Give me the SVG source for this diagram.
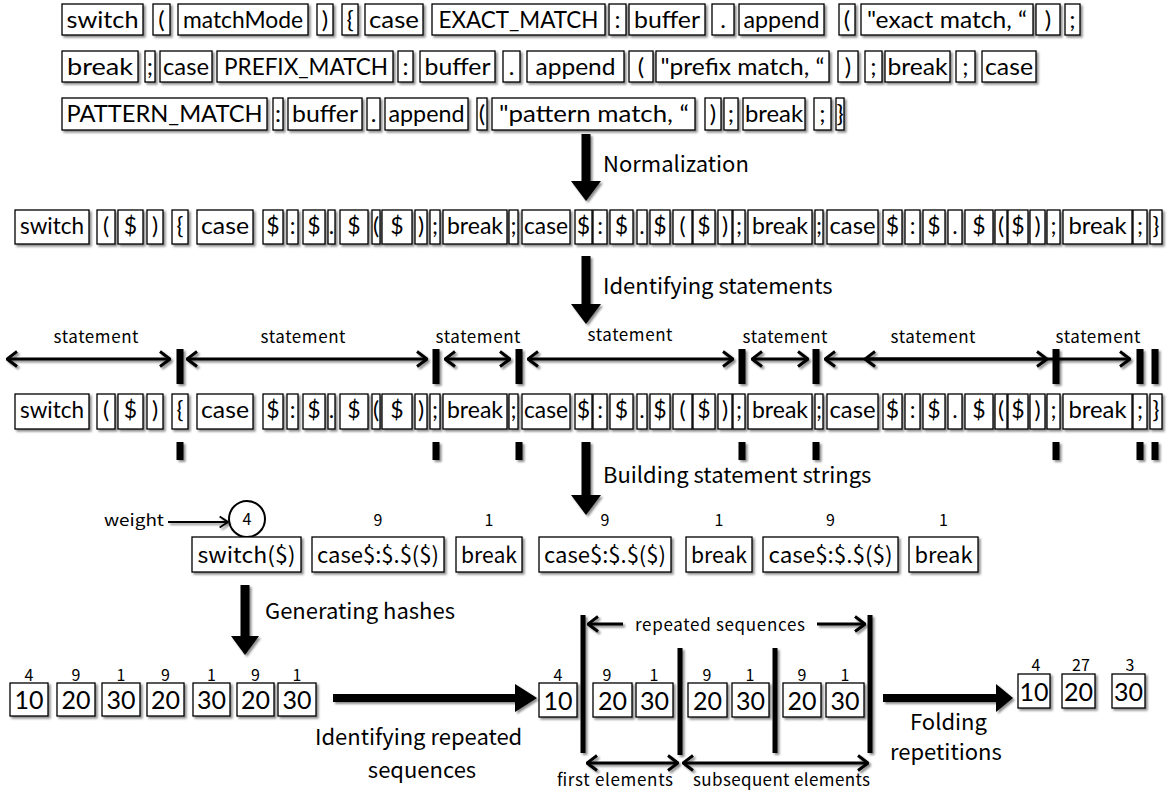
<svg xmlns="http://www.w3.org/2000/svg" width="1169" height="792" viewBox="0 0 1169 792">
<defs>
<filter id="sh" filterUnits="userSpaceOnUse" x="0" y="0" width="1169" height="792"><feDropShadow dx="2" dy="2" stdDeviation="1.2" flood-color="#000" flood-opacity="0.45"/></filter>
<marker id="ch" viewBox="0 0 12 18" refX="11" refY="9" markerWidth="12" markerHeight="18" markerUnits="userSpaceOnUse" orient="auto-start-reverse"><path d="M1,1.5 L11,9 L1,16.5" fill="none" stroke="#000" stroke-width="3"/></marker>
<marker id="ch2" viewBox="0 0 12 16" refX="11" refY="8" markerWidth="10" markerHeight="14" markerUnits="userSpaceOnUse" orient="auto"><path d="M1,1.5 L11,8 L1,14.5" fill="none" stroke="#000" stroke-width="2.2"/></marker>
</defs>
<style>
.bx{fill:#fff;stroke:#000;stroke-width:1.3;filter:url(#sh)}
.c{font-family:Lato,"Open Sans",sans-serif;font-size:24px;text-anchor:middle;fill:#000}
.n{font-family:Lato,"Open Sans",sans-serif;font-size:23px;text-anchor:middle;fill:#000}
.h{font-family:Lato,"Open Sans",sans-serif;font-size:25px;text-anchor:middle;fill:#000}
.sb{font-family:"Noto Sans CJK JP","Noto Sans",sans-serif;font-size:22px;text-anchor:middle;fill:#000}
.lb{font-family:"Noto Sans CJK JP","Noto Sans",sans-serif;font-size:22px;fill:#000}
.st{font-family:"Noto Sans CJK JP","Noto Sans",sans-serif;font-size:17px;text-anchor:middle;fill:#000}
.sm{font-family:"Noto Sans CJK JP","Noto Sans",sans-serif;font-size:16px;text-anchor:middle;fill:#000}
.bar{fill:#000;filter:url(#sh)}
.big{fill:#000;filter:url(#sh)}
.dl{stroke:#000;stroke-width:3;fill:none;marker-start:url(#ch);marker-end:url(#ch)}
.sl{stroke:#000;stroke-width:3;fill:none;marker-end:url(#ch)}
</style>
<rect width="1169" height="792" fill="#fff"/>

<!-- Source code rows -->
<g id="r1">
<g id="r1_1"><rect class="bx" x="62" y="4" width="81" height="31"/><text class="c" x="102.5" y="28" textLength="72" lengthAdjust="spacingAndGlyphs">switch</text></g>
<g id="r1_2"><rect class="bx" x="153" y="4" width="17" height="31"/><text class="c" x="161.5" y="28">(</text></g>
<g id="r1_3"><rect class="bx" x="178" y="4" width="130" height="31"/><text class="c" x="243" y="28" textLength="120" lengthAdjust="spacingAndGlyphs">matchMode</text></g>
<g id="r1_4"><rect class="bx" x="317" y="4" width="16" height="31"/><text class="c" x="325" y="28">)</text></g>
<g id="r1_5"><rect class="bx" x="342" y="4" width="16" height="31"/><text class="c" x="350" y="28">{</text></g>
<g id="r1_6"><rect class="bx" x="365" y="4" width="58" height="31"/><text class="c" x="394" y="28" textLength="50" lengthAdjust="spacingAndGlyphs">case</text></g>
<g id="r1_7"><rect class="bx" x="432" y="4" width="173" height="31"/><text class="c" x="518.5" y="28" textLength="160" lengthAdjust="spacingAndGlyphs">EXACT_MATCH</text></g>
<g id="r1_8"><rect class="bx" x="609" y="4" width="17" height="31"/><text class="c" x="617.5" y="28">:</text></g>
<g id="r1_9"><rect class="bx" x="629" y="4" width="76" height="31"/><text class="c" x="667" y="28" textLength="66" lengthAdjust="spacingAndGlyphs">buffer</text></g>
<g id="r1_10"><rect class="bx" x="712" y="4" width="22" height="31"/><text class="c" x="723" y="28">.</text></g>
<g id="r1_11"><rect class="bx" x="739" y="4" width="85" height="31"/><text class="c" x="781.5" y="28" textLength="76" lengthAdjust="spacingAndGlyphs">append</text></g>
<g id="r1_12"><rect class="bx" x="839" y="4" width="16" height="31"/><text class="c" x="847" y="28">(</text></g>
<g id="r1_13"><rect class="bx" x="861" y="4" width="172" height="31"/><text class="c" x="947" y="28" textLength="160" lengthAdjust="spacingAndGlyphs">"exact match, “</text></g>
<g id="r1_14"><rect class="bx" x="1036" y="4" width="24" height="31"/><text class="c" x="1048" y="28">)</text></g>
<g id="r1_15"><rect class="bx" x="1065" y="4" width="15" height="31"/><text class="c" x="1072.5" y="28">;</text></g>
</g>
<g id="r2">
<g id="r2_1"><rect class="bx" x="62" y="51" width="76" height="31"/><text class="c" x="100" y="75" textLength="66" lengthAdjust="spacingAndGlyphs">break</text></g>
<g id="r2_2"><rect class="bx" x="145" y="51" width="10" height="31"/><text class="c" x="150" y="75">;</text></g>
<g id="r2_3"><rect class="bx" x="160" y="51" width="52" height="31"/><text class="c" x="186" y="75" textLength="46" lengthAdjust="spacingAndGlyphs">case</text></g>
<g id="r2_4"><rect class="bx" x="217" y="51" width="176" height="31"/><text class="c" x="306" y="75" textLength="164" lengthAdjust="spacingAndGlyphs">PREFIX_MATCH</text></g>
<g id="r2_5"><rect class="bx" x="398" y="51" width="15" height="31"/><text class="c" x="405.5" y="75">:</text></g>
<g id="r2_6"><rect class="bx" x="420" y="51" width="75" height="31"/><text class="c" x="457.5" y="75" textLength="66" lengthAdjust="spacingAndGlyphs">buffer</text></g>
<g id="r2_7"><rect class="bx" x="503" y="51" width="17" height="31"/><text class="c" x="511.5" y="75">.</text></g>
<g id="r2_8"><rect class="bx" x="527" y="51" width="97" height="31"/><text class="c" x="575.5" y="75" textLength="80" lengthAdjust="spacingAndGlyphs">append</text></g>
<g id="r2_9"><rect class="bx" x="629" y="51" width="24" height="31"/><text class="c" x="641" y="75">(</text></g>
<g id="r2_10"><rect class="bx" x="656" y="51" width="173" height="31"/><text class="c" x="742.5" y="75" textLength="164" lengthAdjust="spacingAndGlyphs">"prefix match, “</text></g>
<g id="r2_11"><rect class="bx" x="838" y="51" width="20" height="31"/><text class="c" x="848" y="75">)</text></g>
<g id="r2_12"><rect class="bx" x="865" y="51" width="17" height="31"/><text class="c" x="873.5" y="75">;</text></g>
<g id="r2_13"><rect class="bx" x="885" y="51" width="65" height="31"/><text class="c" x="917.5" y="75" textLength="60" lengthAdjust="spacingAndGlyphs">break</text></g>
<g id="r2_14"><rect class="bx" x="956" y="51" width="19" height="31"/><text class="c" x="965.5" y="75">;</text></g>
<g id="r2_15"><rect class="bx" x="982" y="51" width="54" height="31"/><text class="c" x="1009" y="75" textLength="48" lengthAdjust="spacingAndGlyphs">case</text></g>
</g>
<g id="r3">
<g id="r3_1"><rect class="bx" x="62" y="98" width="205" height="32"/><text class="c" x="164.5" y="122" textLength="196" lengthAdjust="spacingAndGlyphs">PATTERN_MATCH</text></g>
<g id="r3_2"><rect class="bx" x="273" y="98" width="10" height="32"/><text class="c" x="278" y="122">:</text></g>
<g id="r3_3"><rect class="bx" x="288" y="98" width="74" height="32"/><text class="c" x="325" y="122" textLength="66" lengthAdjust="spacingAndGlyphs">buffer</text></g>
<g id="r3_4"><rect class="bx" x="367" y="98" width="13" height="32"/><text class="c" x="373.5" y="122">.</text></g>
<g id="r3_5"><rect class="bx" x="385" y="98" width="83" height="32"/><text class="c" x="426.5" y="122" textLength="76" lengthAdjust="spacingAndGlyphs">append</text></g>
<g id="r3_6"><rect class="bx" x="477" y="98" width="10" height="32"/><text class="c" x="482" y="122">(</text></g>
<g id="r3_7"><rect class="bx" x="492" y="98" width="203" height="32"/><text class="c" x="594" y="122" textLength="190" lengthAdjust="spacingAndGlyphs">"pattern match, “</text></g>
<g id="r3_8"><rect class="bx" x="705" y="98" width="16" height="32"/><text class="c" x="713" y="122">)</text></g>
<g id="r3_9"><rect class="bx" x="724" y="98" width="14" height="32"/><text class="c" x="731" y="122">;</text></g>
<g id="r3_10"><rect class="bx" x="743" y="98" width="62" height="32"/><text class="c" x="774" y="122" textLength="58" lengthAdjust="spacingAndGlyphs">break</text></g>
<g id="r3_11"><rect class="bx" x="814" y="98" width="17" height="32"/><text class="c" x="822.5" y="122">;</text></g>
<g id="r3_12"><rect class="bx" x="836" y="98" width="8" height="32"/><text class="c" x="840" y="122">}</text></g>
</g>

<!-- Normalized row -->
<g id="norm">
<g id="n1"><rect class="bx" x="15" y="210" width="74" height="34"/><text class="n" x="52" y="234" textLength="64" lengthAdjust="spacingAndGlyphs">switch</text></g>
<g id="n2"><rect class="bx" x="97" y="210" width="18" height="34"/><text class="n" x="106" y="234">(</text></g>
<g id="n3"><rect class="bx" x="118" y="210" width="25" height="34"/><text class="n" x="130.5" y="234">$</text></g>
<g id="n4"><rect class="bx" x="147" y="210" width="16" height="34"/><text class="n" x="155" y="234">)</text></g>
<g id="n5"><rect class="bx" x="172" y="210" width="16" height="34"/><text class="n" x="180" y="234">{</text></g>
<g id="n6"><rect class="bx" x="197" y="210" width="56" height="34"/><text class="n" x="225" y="234" textLength="48" lengthAdjust="spacingAndGlyphs">case</text></g>
<g id="n7"><rect class="bx" x="263" y="210" width="20" height="34"/><text class="n" x="273" y="234">$</text></g>
<g id="n8"><rect class="bx" x="287" y="210" width="11" height="34"/><text class="n" x="292.5" y="234">:</text></g>
<g id="n9"><rect class="bx" x="303" y="210" width="22" height="34"/><text class="n" x="314" y="234">$</text></g>
<g id="n10"><rect class="bx" x="328" y="210" width="7" height="34"/><text class="n" x="331.5" y="234">.</text></g>
<g id="n11"><rect class="bx" x="340" y="210" width="28" height="34"/><text class="n" x="354" y="234">$</text></g>
<g id="n12"><rect class="bx" x="372" y="210" width="8" height="34"/><text class="n" x="376" y="234">(</text></g>
<g id="n13"><rect class="bx" x="382" y="210" width="30" height="34"/><text class="n" x="397" y="234">$</text></g>
<g id="n14"><rect class="bx" x="415" y="210" width="12" height="34"/><text class="n" x="421" y="234">)</text></g>
<g id="n15"><rect class="bx" x="430" y="210" width="10" height="34"/><text class="n" x="435" y="234">;</text></g>
<g id="n16"><rect class="bx" x="443" y="210" width="64" height="34"/><text class="n" x="475" y="234" textLength="56" lengthAdjust="spacingAndGlyphs">break</text></g>
<g id="n17"><rect class="bx" x="509" y="210" width="9" height="34"/><text class="n" x="513.5" y="234">;</text></g>
<g id="n18"><rect class="bx" x="522" y="210" width="48" height="34"/><text class="n" x="546" y="234" textLength="44" lengthAdjust="spacingAndGlyphs">case</text></g>
<g id="n19"><rect class="bx" x="575" y="210" width="17" height="34"/><text class="n" x="583.5" y="234">$</text></g>
<g id="n20"><rect class="bx" x="593" y="210" width="14" height="34"/><text class="n" x="600" y="234">:</text></g>
<g id="n21"><rect class="bx" x="610" y="210" width="23" height="34"/><text class="n" x="621.5" y="234">$</text></g>
<g id="n22"><rect class="bx" x="637" y="210" width="10" height="34"/><text class="n" x="642" y="234">.</text></g>
<g id="n23"><rect class="bx" x="650" y="210" width="20" height="34"/><text class="n" x="660" y="234">$</text></g>
<g id="n24"><rect class="bx" x="673" y="210" width="19" height="34"/><text class="n" x="682.5" y="234">(</text></g>
<g id="n25"><rect class="bx" x="693" y="210" width="22" height="34"/><text class="n" x="704" y="234">$</text></g>
<g id="n26"><rect class="bx" x="718" y="210" width="14" height="34"/><text class="n" x="725" y="234">)</text></g>
<g id="n27"><rect class="bx" x="733" y="210" width="12" height="34"/><text class="n" x="739" y="234">;</text></g>
<g id="n28"><rect class="bx" x="748" y="210" width="64" height="34"/><text class="n" x="780" y="234" textLength="56" lengthAdjust="spacingAndGlyphs">break</text></g>
<g id="n29"><rect class="bx" x="815" y="210" width="8" height="34"/><text class="n" x="819" y="234">;</text></g>
<g id="n30"><rect class="bx" x="827" y="210" width="51" height="34"/><text class="n" x="852.5" y="234" textLength="46" lengthAdjust="spacingAndGlyphs">case</text></g>
<g id="n31"><rect class="bx" x="883" y="210" width="19" height="34"/><text class="n" x="892.5" y="234">$</text></g>
<g id="n32"><rect class="bx" x="905" y="210" width="15" height="34"/><text class="n" x="912.5" y="234">:</text></g>
<g id="n33"><rect class="bx" x="923" y="210" width="22" height="34"/><text class="n" x="934" y="234">$</text></g>
<g id="n34"><rect class="bx" x="948" y="210" width="14" height="34"/><text class="n" x="955" y="234">.</text></g>
<g id="n35"><rect class="bx" x="965" y="210" width="28" height="34"/><text class="n" x="979" y="234">$</text></g>
<g id="n36"><rect class="bx" x="995" y="210" width="12" height="34"/><text class="n" x="1001" y="234">(</text></g>
<g id="n37"><rect class="bx" x="1008" y="210" width="20" height="34"/><text class="n" x="1018" y="234">$</text></g>
<g id="n38"><rect class="bx" x="1030" y="210" width="15" height="34"/><text class="n" x="1037.5" y="234">)</text></g>
<g id="n39"><rect class="bx" x="1047" y="210" width="13" height="34"/><text class="n" x="1053.5" y="234">;</text></g>
<g id="n40"><rect class="bx" x="1063" y="210" width="69" height="34"/><text class="n" x="1097.5" y="234" textLength="58" lengthAdjust="spacingAndGlyphs">break</text></g>
<g id="n41"><rect class="bx" x="1133" y="210" width="14" height="34"/><text class="n" x="1140" y="234">;</text></g>
<g id="n42"><rect class="bx" x="1150" y="210" width="12" height="34"/><text class="n" x="1156" y="234">}</text></g>
</g>

<!-- Statement-identified row -->
<g id="stm">
<g id="s1"><rect class="bx" x="15" y="394" width="74" height="35"/><text class="n" x="52" y="418" textLength="64" lengthAdjust="spacingAndGlyphs">switch</text></g>
<g id="s2"><rect class="bx" x="97" y="394" width="18" height="35"/><text class="n" x="106" y="418">(</text></g>
<g id="s3"><rect class="bx" x="118" y="394" width="25" height="35"/><text class="n" x="130.5" y="418">$</text></g>
<g id="s4"><rect class="bx" x="147" y="394" width="16" height="35"/><text class="n" x="155" y="418">)</text></g>
<g id="s5"><rect class="bx" x="172" y="394" width="16" height="35"/><text class="n" x="180" y="418">{</text></g>
<g id="s6"><rect class="bx" x="197" y="394" width="56" height="35"/><text class="n" x="225" y="418" textLength="48" lengthAdjust="spacingAndGlyphs">case</text></g>
<g id="s7"><rect class="bx" x="263" y="394" width="20" height="35"/><text class="n" x="273" y="418">$</text></g>
<g id="s8"><rect class="bx" x="287" y="394" width="11" height="35"/><text class="n" x="292.5" y="418">:</text></g>
<g id="s9"><rect class="bx" x="303" y="394" width="22" height="35"/><text class="n" x="314" y="418">$</text></g>
<g id="s10"><rect class="bx" x="328" y="394" width="7" height="35"/><text class="n" x="331.5" y="418">.</text></g>
<g id="s11"><rect class="bx" x="340" y="394" width="28" height="35"/><text class="n" x="354" y="418">$</text></g>
<g id="s12"><rect class="bx" x="372" y="394" width="8" height="35"/><text class="n" x="376" y="418">(</text></g>
<g id="s13"><rect class="bx" x="382" y="394" width="30" height="35"/><text class="n" x="397" y="418">$</text></g>
<g id="s14"><rect class="bx" x="415" y="394" width="12" height="35"/><text class="n" x="421" y="418">)</text></g>
<g id="s15"><rect class="bx" x="430" y="394" width="10" height="35"/><text class="n" x="435" y="418">;</text></g>
<g id="s16"><rect class="bx" x="443" y="394" width="64" height="35"/><text class="n" x="475" y="418" textLength="56" lengthAdjust="spacingAndGlyphs">break</text></g>
<g id="s17"><rect class="bx" x="509" y="394" width="9" height="35"/><text class="n" x="513.5" y="418">;</text></g>
<g id="s18"><rect class="bx" x="522" y="394" width="48" height="35"/><text class="n" x="546" y="418" textLength="44" lengthAdjust="spacingAndGlyphs">case</text></g>
<g id="s19"><rect class="bx" x="575" y="394" width="17" height="35"/><text class="n" x="583.5" y="418">$</text></g>
<g id="s20"><rect class="bx" x="593" y="394" width="14" height="35"/><text class="n" x="600" y="418">:</text></g>
<g id="s21"><rect class="bx" x="610" y="394" width="23" height="35"/><text class="n" x="621.5" y="418">$</text></g>
<g id="s22"><rect class="bx" x="637" y="394" width="10" height="35"/><text class="n" x="642" y="418">.</text></g>
<g id="s23"><rect class="bx" x="650" y="394" width="20" height="35"/><text class="n" x="660" y="418">$</text></g>
<g id="s24"><rect class="bx" x="673" y="394" width="19" height="35"/><text class="n" x="682.5" y="418">(</text></g>
<g id="s25"><rect class="bx" x="693" y="394" width="22" height="35"/><text class="n" x="704" y="418">$</text></g>
<g id="s26"><rect class="bx" x="718" y="394" width="14" height="35"/><text class="n" x="725" y="418">)</text></g>
<g id="s27"><rect class="bx" x="733" y="394" width="12" height="35"/><text class="n" x="739" y="418">;</text></g>
<g id="s28"><rect class="bx" x="748" y="394" width="64" height="35"/><text class="n" x="780" y="418" textLength="56" lengthAdjust="spacingAndGlyphs">break</text></g>
<g id="s29"><rect class="bx" x="815" y="394" width="8" height="35"/><text class="n" x="819" y="418">;</text></g>
<g id="s30"><rect class="bx" x="827" y="394" width="51" height="35"/><text class="n" x="852.5" y="418" textLength="46" lengthAdjust="spacingAndGlyphs">case</text></g>
<g id="s31"><rect class="bx" x="883" y="394" width="19" height="35"/><text class="n" x="892.5" y="418">$</text></g>
<g id="s32"><rect class="bx" x="905" y="394" width="15" height="35"/><text class="n" x="912.5" y="418">:</text></g>
<g id="s33"><rect class="bx" x="923" y="394" width="22" height="35"/><text class="n" x="934" y="418">$</text></g>
<g id="s34"><rect class="bx" x="948" y="394" width="14" height="35"/><text class="n" x="955" y="418">.</text></g>
<g id="s35"><rect class="bx" x="965" y="394" width="28" height="35"/><text class="n" x="979" y="418">$</text></g>
<g id="s36"><rect class="bx" x="995" y="394" width="12" height="35"/><text class="n" x="1001" y="418">(</text></g>
<g id="s37"><rect class="bx" x="1008" y="394" width="20" height="35"/><text class="n" x="1018" y="418">$</text></g>
<g id="s38"><rect class="bx" x="1030" y="394" width="15" height="35"/><text class="n" x="1037.5" y="418">)</text></g>
<g id="s39"><rect class="bx" x="1047" y="394" width="13" height="35"/><text class="n" x="1053.5" y="418">;</text></g>
<g id="s40"><rect class="bx" x="1063" y="394" width="69" height="35"/><text class="n" x="1097.5" y="418" textLength="58" lengthAdjust="spacingAndGlyphs">break</text></g>
<g id="s41"><rect class="bx" x="1133" y="394" width="14" height="35"/><text class="n" x="1140" y="418">;</text></g>
<g id="s42"><rect class="bx" x="1150" y="394" width="12" height="35"/><text class="n" x="1156" y="418">}</text></g>
</g>

<!-- Statement boundaries and labels -->
<g id="boundaries">
<rect class="bar" x="176.5" y="349" width="7" height="35"/><rect class="bar" x="176.5" y="442" width="7" height="18"/>
<rect class="bar" x="432.5" y="349" width="7" height="35"/><rect class="bar" x="432.5" y="442" width="7" height="18"/>
<rect class="bar" x="515.5" y="349" width="7" height="35"/><rect class="bar" x="515.5" y="442" width="7" height="18"/>
<rect class="bar" x="738.5" y="349" width="7" height="35"/><rect class="bar" x="738.5" y="442" width="7" height="18"/>
<rect class="bar" x="812.5" y="349" width="7" height="35"/><rect class="bar" x="812.5" y="442" width="7" height="18"/>
<rect class="bar" x="1052.5" y="349" width="7" height="35"/><rect class="bar" x="1052.5" y="442" width="7" height="18"/>
<rect class="bar" x="1136.5" y="349" width="7" height="35"/><rect class="bar" x="1136.5" y="442" width="7" height="18"/>
<rect class="bar" x="1151.5" y="349" width="7" height="35"/><rect class="bar" x="1151.5" y="442" width="7" height="18"/>
</g>
<g id="statement-labels">
<text class="st" x="96" y="343" textLength="85">statement</text>
<text class="st" x="303" y="343" textLength="85">statement</text>
<text class="st" x="478" y="343" textLength="85">statement</text>
<text class="st" x="630" y="341" textLength="85">statement</text>
<text class="st" x="785" y="343" textLength="85">statement</text>
<text class="st" x="933" y="343" textLength="85">statement</text>
<text class="st" x="1098" y="343" textLength="85">statement</text>
</g>

<!-- Statement strings -->
<g id="strings">
<g id="w0"><circle cx="247" cy="519" r="18" fill="#fff" stroke="#000" stroke-width="2"/><text class="sm" x="247" y="525">4</text></g>
<text class="sm" x="134" y="526" textLength="60" lengthAdjust="spacingAndGlyphs">weight</text>
<text class="sm" x="378" y="526">9</text>
<text class="sm" x="489" y="526">1</text>
<text class="sm" x="605" y="526">9</text>
<text class="sm" x="719" y="526">1</text>
<text class="sm" x="830.5" y="526">9</text>
<text class="sm" x="943.5" y="526">1</text>
<g id="b1"><rect class="bx" x="192" y="537" width="109" height="35"/><text class="sb" x="246.5" y="563" textLength="98" lengthAdjust="spacingAndGlyphs">switch($)</text></g>
<g id="b2"><rect class="bx" x="312" y="537" width="132" height="35"/><text class="sb" x="378" y="563" textLength="122" lengthAdjust="spacingAndGlyphs">case$:$.$($)</text></g>
<g id="b3"><rect class="bx" x="456" y="537" width="66" height="35"/><text class="sb" x="489" y="563" textLength="56" lengthAdjust="spacingAndGlyphs">break</text></g>
<g id="b4"><rect class="bx" x="539" y="537" width="132" height="35"/><text class="sb" x="605" y="563" textLength="122" lengthAdjust="spacingAndGlyphs">case$:$.$($)</text></g>
<g id="b5"><rect class="bx" x="686" y="537" width="66" height="35"/><text class="sb" x="719" y="563" textLength="56" lengthAdjust="spacingAndGlyphs">break</text></g>
<g id="b6"><rect class="bx" x="763" y="537" width="135" height="35"/><text class="sb" x="830.5" y="563" textLength="124" lengthAdjust="spacingAndGlyphs">case$:$.$($)</text></g>
<g id="b7"><rect class="bx" x="909" y="537" width="69" height="35"/><text class="sb" x="943.5" y="563" textLength="58" lengthAdjust="spacingAndGlyphs">break</text></g>
</g>

<!-- Hashes -->
<g id="hashes">
<g id="h1"><text class="sm" x="29" y="681">4</text><rect class="bx" x="10" y="683" width="38" height="33"/><text class="h" x="29" y="709">10</text></g>
<g id="h2"><text class="sm" x="76" y="681">9</text><rect class="bx" x="57" y="683" width="38" height="33"/><text class="h" x="76" y="709">20</text></g>
<g id="h3"><text class="sm" x="121" y="681">1</text><rect class="bx" x="102" y="683" width="38" height="33"/><text class="h" x="121" y="709">30</text></g>
<g id="h4"><text class="sm" x="165.5" y="681">9</text><rect class="bx" x="147" y="683" width="37" height="33"/><text class="h" x="165.5" y="709">20</text></g>
<g id="h5"><text class="sm" x="211.5" y="681">1</text><rect class="bx" x="193" y="683" width="37" height="33"/><text class="h" x="211.5" y="709">30</text></g>
<g id="h6"><text class="sm" x="255.5" y="681">9</text><rect class="bx" x="237" y="683" width="37" height="33"/><text class="h" x="255.5" y="709">20</text></g>
<g id="h7"><text class="sm" x="297" y="681">1</text><rect class="bx" x="278" y="683" width="38" height="33"/><text class="h" x="297" y="709">30</text></g>
</g>

<!-- Repeated sequences -->
<g id="repeated">
<g id="q1"><text class="sm" x="558" y="681">4</text><rect class="bx" x="539" y="683" width="38" height="34"/><text class="h" x="558" y="710">10</text></g>
<g id="q2"><text class="sm" x="607" y="681">9</text><rect class="bx" x="593" y="683" width="39" height="34"/><text class="h" x="612.5" y="710">20</text></g>
<g id="q3"><text class="sm" x="654" y="681">1</text><rect class="bx" x="636" y="683" width="37" height="34"/><text class="h" x="654.5" y="710">30</text></g>
<g id="q4"><text class="sm" x="707" y="681">9</text><rect class="bx" x="688" y="683" width="39" height="34"/><text class="h" x="707.5" y="710">20</text></g>
<g id="q5"><text class="sm" x="750" y="681">1</text><rect class="bx" x="732" y="683" width="37" height="34"/><text class="h" x="750.5" y="710">30</text></g>
<g id="q6"><text class="sm" x="802" y="681">9</text><rect class="bx" x="783" y="683" width="38" height="34"/><text class="h" x="802" y="710">20</text></g>
<g id="q7"><text class="sm" x="845" y="681">1</text><rect class="bx" x="826" y="683" width="38" height="34"/><text class="h" x="845" y="710">30</text></g>
<rect class="bar" x="580.5" y="615" width="5" height="138"/>
<rect class="bar" x="677.5" y="648" width="5" height="107"/>
<rect class="bar" x="772.5" y="648" width="5" height="105"/>
<rect class="bar" x="867.5" y="615" width="5" height="138"/>
<text class="st" x="720" y="631" textLength="170">repeated sequences</text>
<text class="st" x="615" y="786" textLength="116">first elements</text>
<text class="st" x="781.5" y="786" textLength="177">subsequent elements</text>
</g>

<!-- Folded result -->
<g id="folded">
<g id="f1"><text class="sm" x="1036" y="671">4</text><rect class="bx" x="1018" y="674" width="32" height="34"/><text class="h" x="1034" y="701">10</text></g>
<g id="f2"><text class="sm" x="1081" y="671">27</text><rect class="bx" x="1062" y="674" width="33" height="34"/><text class="h" x="1078.5" y="701">20</text></g>
<g id="f3"><text class="sm" x="1130" y="671">3</text><rect class="bx" x="1112" y="674" width="33" height="34"/><text class="h" x="1128.5" y="701">30</text></g>
</g>

<!-- Step labels -->
<g id="step-labels">
<text class="lb" x="603" y="172">Normalization</text>
<text class="lb" x="603" y="294">Identifying statements</text>
<text class="lb" x="603" y="483">Building statement strings</text>
<text class="lb" x="265" y="619">Generating hashes</text>
<text class="lb" x="315" y="745">Identifying repeated</text>
<text class="lb" x="422" y="778" text-anchor="middle">sequences</text>
<text class="lb" x="910" y="730">Folding</text>
<text class="lb" x="890" y="760">repetitions</text>
</g>

<!-- Connectors -->
<g id="connectors">
<polygon class="big" points="581.5,134 590.5,134 590.5,181 601,181 586,201 571,181 581.5,181"/>
<polygon class="big" points="581.5,256 590.5,256 590.5,304 601,304 586,324 571,304 581.5,304"/>
<polygon class="big" points="581.5,442 590.5,442 590.5,495 601,495 586,515 571,495 581.5,495"/>
<polygon class="big" points="240.5,585 249.5,585 249.5,636 259,636 245,655 231,636 240.5,636"/>
<polygon class="big" points="333,694 515,694 515,684 537,698 515,712 515,702 333,702"/>
<polygon class="big" points="883,694 996,694 996,684 1013,698 996,712 996,702 883,702"/>
<g filter="url(#sh)">
<line class="dl" x1="7" y1="359" x2="170" y2="359"/>
<line class="dl" x1="187" y1="359" x2="427" y2="359"/>
<line class="dl" x1="445" y1="359" x2="510" y2="359"/>
<line class="dl" x1="528" y1="359" x2="733" y2="359"/>
<line class="dl" x1="752" y1="359" x2="808" y2="359"/>
<line class="dl" x1="825" y1="359" x2="1047" y2="359"/>
<line class="dl" x1="865" y1="359" x2="1130" y2="359"/>
<line class="sl" x1="623" y1="624" x2="588" y2="624"/>
<line class="sl" x1="817" y1="624" x2="865" y2="624"/>
<line class="dl" x1="587" y1="763" x2="678" y2="763"/>
<line class="dl" x1="683" y1="763" x2="868" y2="763"/>
<line x1="168" y1="522" x2="228" y2="522" stroke="#000" stroke-width="2" marker-end="url(#ch2)"/>
</g>
</g>
</svg>
